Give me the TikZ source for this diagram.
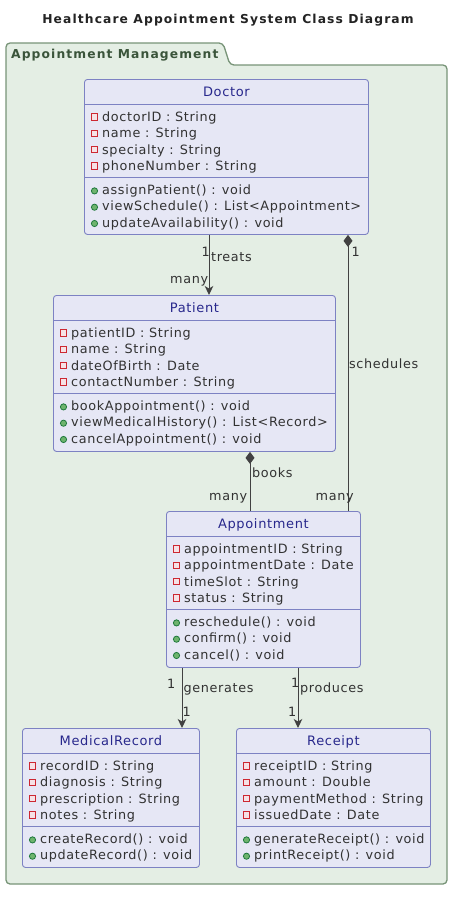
\documentclass[tikz,border=0pt]{standalone}
\usepackage{fontspec}
\setmainfont{DejaVu Sans}
\newfontfamily\memfam{DejaVu Sans}[LetterSpace=5]
\newfontfamily\ttlfam{DejaVu Sans}[LetterSpace=9]
\usetikzlibrary{arrows.meta,calc}
\definecolor{pkgfill}{RGB}{228,238,228}
\definecolor{pkgdraw}{RGB}{120,148,120}
\definecolor{pkgtext}{RGB}{58,84,58}
\definecolor{clsfill}{RGB}{230,231,245}
\definecolor{clsdraw}{RGB}{125,130,195}
\definecolor{clsname}{RGB}{40,40,140}
\definecolor{txt}{RGB}{50,50,50}
\definecolor{ttl}{RGB}{35,35,35}
\definecolor{privred}{RGB}{205,40,50}
\definecolor{privfill}{RGB}{246,226,230}
\definecolor{pubgreen}{RGB}{30,120,60}
\definecolor{pubfill}{RGB}{110,180,110}
\definecolor{edge}{RGB}{65,65,65}
\tikzset{
 pkg/.style={draw=pkgdraw, fill=pkgfill, line width=1.3pt, rounded corners=4pt},
 classbox/.style={rectangle, draw=clsdraw, fill=clsfill, line width=0.9pt, rounded corners=3pt, inner sep=0pt},
 classname/.style={font=\memfam\fontsize{13}{15}\selectfont, text=clsname, inner sep=0pt, text height=9.4pt, text depth=0pt, anchor=center},
 member/.style={font=\memfam\fontsize{12.8}{15}\selectfont, text=txt, inner sep=0pt, text height=9.3pt, text depth=0pt, anchor=west},
 sepline/.style={draw=clsdraw, line width=0.9pt},
 privicon/.style={draw=privred, fill=privfill, line width=1pt},
 pubicon/.style={draw=pubgreen, fill=pubfill, line width=0.8pt},
 assoc/.style={draw=edge, line width=1pt, -{Stealth[length=9pt,width=8.5pt,inset=2.5pt]}},
 comp/.style={draw=edge, line width=1pt, {Diamond[length=12pt,width=9pt]}-},
 lbl/.style={font=\memfam\fontsize{12.8}{15}\selectfont, text=txt, inner sep=0pt, anchor=base west},
 diagtitle/.style={font=\ttlfam\bfseries\fontsize{12.3}{14}\selectfont, text=ttl, inner sep=0pt, text height=9pt, text depth=0pt},
 pkglabel/.style={font=\ttlfam\bfseries\fontsize{12.3}{14}\selectfont, text=pkgtext, inner sep=0pt, text height=9pt, text depth=0pt, anchor=west},
}
% #1 name, #2 x, #3 top, #4 width, #5 height, #6 title, #7 attributes, #8 methods
\newcommand\umlclass[8]{%
 \node[classbox, minimum width=#4pt, minimum height=#5pt, anchor=north west] (#1) at (#2,#3) {};
 \node[classname] (#1-name) at ($(#1.north)+(0,12.6)$) {#6};
 \draw[sepline] (#2,#3+25.3) -- (#2+#4,#3+25.3);
 \foreach \a [count=\i] in {#7} {%
   \pgfmathsetmacro\yy{#3+38+(\i-1)*16.3}%
   \path[privicon] (#2+7.3,\yy-3.2) rectangle (#2+13.7,\yy+3.2);
   \node[member] (#1-a\i) at (#2+18,\yy) {\a};
   \xdef\lastrow{\yy}%
 }
 \pgfmathsetmacro\sepy{\lastrow+11.5}
 \draw[sepline] (#2,\sepy) -- (#2+#4,\sepy);
 \foreach \m [count=\i] in {#8} {%
   \pgfmathsetmacro\yy{\sepy+12.5+(\i-1)*16.3}%
   \path[pubicon] (#2+10.5,\yy+1) circle[radius=3.1];
   \node[member] (#1-m\i) at (#2+18,\yy) {\m};
 }
}
\begin{document}
\begin{tikzpicture}[x=1pt,y=-1pt]
\fill[white] (0,0) rectangle (462,898);
\useasboundingbox (0,0) rectangle (462,898);
\node[diagtitle] (title) at (228,18.5) {Healthcare Appointment System Class Diagram};
\draw[pkg] (6,884) -- (6,43) -- (223,43) -- (230,65) -- (447,65) -- (447,884) -- cycle;
\node[pkglabel] (pkgname) at (11,54) {Appointment Management};

\umlclass{doctor}{84}{79}{284}{155}{Doctor}%
 {doctorID : String, name : String, specialty : String, phoneNumber : String}%
 {assignPatient() : void, viewSchedule() : List<Appointment>, updateAvailability() : void}
\umlclass{patient}{53}{295}{282}{156}{Patient}%
 {patientID : String, name : String, dateOfBirth : Date, contactNumber : String}%
 {bookAppointment() : void, viewMedicalHistory() : List<Record>, cancelAppointment() : void}
\umlclass{appointment}{166}{511}{194}{156}{Appointment}%
 {appointmentID : String, appointmentDate : Date, timeSlot : String, status : String}%
 {reschedule() : void, confirm() : void, cancel() : void}
\umlclass{medrec}{22}{728}{177}{139}{MedicalRecord}%
 {recordID : String, diagnosis : String, prescription : String, notes : String}%
 {createRecord() : void, updateRecord() : void}
\umlclass{receipt}{236}{728}{194}{139}{Receipt}%
 {receiptID : String, amount : Double, paymentMethod : String, issuedDate : Date}%
 {generateReceipt() : void, printReceipt() : void}

\draw[assoc] (doctor.south -| 209,0) -- (patient.north -| 209,0);
\draw[comp] (doctor.south -| 348,0) -- (appointment.north -| 348,0);
\draw[comp] (patient.south -| 250,0) -- (appointment.north -| 250,0);
\draw[assoc] (appointment.south -| 182,0) -- (medrec.north -| 182,0);
\draw[assoc] (appointment.south -| 298,0) -- (receipt.north -| 298,0);

\node[lbl] (l-treats-1) at (201.5,256) {1};
\node[lbl] (l-treats) at (211,261) {treats};
\node[lbl] (l-treats-m) at (170,283) {many};
\node[lbl] (l-sched-1) at (351.5,256.5) {1};
\node[lbl] (l-sched) at (349,368.5) {schedules};
\node[lbl] (l-sched-m) at (315.5,500) {many};
\node[lbl] (l-books) at (252,477) {books};
\node[lbl] (l-books-m) at (209,500) {many};
\node[lbl] (l-gen-1) at (167,688) {1};
\node[lbl] (l-gen) at (183.5,692.5) {generates};
\node[lbl] (l-gen-2) at (182.5,716) {1};
\node[lbl] (l-prod-1) at (291,687.5) {1};
\node[lbl] (l-prod) at (300,692.5) {produces};
\node[lbl] (l-prod-2) at (288,716) {1};
\end{tikzpicture}
\end{document}
